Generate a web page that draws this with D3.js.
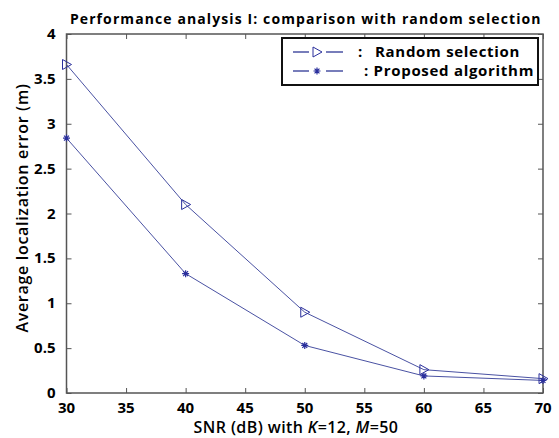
<!DOCTYPE html>
<html>
<head>
<meta charset="utf-8">
<script src="https://d3js.org/d3.v7.min.js"></script>
<style>
  body { margin: 0; background: #fff; }
  text { font-family: 'Open Sans', 'DejaVu Sans', sans-serif; }
</style>
</head>
<body>
<div id="chart"></div>
<script>
// data
var snr = [30, 40, 50, 60, 70];
var randomSel = [3.66, 2.10, 0.90, 0.26, 0.16];
var proposed = [2.84, 1.33, 0.53, 0.19, 0.14];
var xTicks = [30, 35, 40, 45, 50, 55, 60, 65, 70];
var yTicks = [0, 0.5, 1, 1.5, 2, 2.5, 3, 3.5, 4];

var width = 559, height = 438;
var plotL = 66.5, plotR = 543, plotT = 34, plotB = 393;
var lineColor = '#4a52a3';
var markColor = '#2a2f9c';
var axisColor = '#555';

var svg = d3.select('#chart').append('svg')
    .attr('width', width).attr('height', height);

var x = d3.scaleLinear().domain([30, 70]).range([plotL, plotR]);
var y = d3.scaleLinear().domain([0, 4]).range([plotB, plotT]);

// ticks pointing inward on all four sides
svg.append('g').attr('transform', 'translate(0,' + plotB + ')')
    .call(d3.axisTop(x).tickValues(xTicks).tickSize(5).tickFormat(''))
    .call(g => g.select('.domain').remove());
svg.append('g').attr('transform', 'translate(0,' + plotT + ')')
    .call(d3.axisBottom(x).tickValues(xTicks).tickSize(5).tickFormat(''))
    .call(g => g.select('.domain').remove());
svg.append('g').attr('transform', 'translate(' + plotL + ',0)')
    .call(d3.axisRight(y).tickValues(yTicks).tickSize(5).tickFormat(''))
    .call(g => g.select('.domain').remove());
svg.append('g').attr('transform', 'translate(' + plotR + ',0)')
    .call(d3.axisLeft(y).tickValues(yTicks).tickSize(5).tickFormat(''))
    .call(g => g.select('.domain').remove());
svg.selectAll('.tick line').attr('stroke', axisColor);

svg.append('rect')
    .attr('x', plotL).attr('y', plotT)
    .attr('width', plotR - plotL).attr('height', plotB - plotT)
    .attr('fill', 'none').attr('stroke', axisColor).attr('stroke-width', 1.5);

// tick labels
svg.append('g').selectAll('text').data(xTicks).join('text')
    .attr('x', d => x(d)).attr('y', plotB + 20)
    .attr('text-anchor', 'middle')
    .style('font-size', '15px').style('font-weight', 'bold')
    .text(d => d);
svg.append('g').selectAll('text').data(yTicks).join('text')
    .attr('x', plotL - 11).attr('y', d => y(d) + 5)
    .attr('text-anchor', 'end')
    .style('font-size', '15px').style('font-weight', 'bold')
    .text(d => d);

// titles
svg.append('text')
    .attr('x', (plotL + plotR) / 2 + 1).attr('y', 24)
    .attr('text-anchor', 'middle')
    .style('font-size', '14px').style('font-weight', 'bold')
    .style('letter-spacing', '1.1px')
    .text('Performance analysis I: comparison with random selection');

var xt = svg.append('text')
    .attr('x', 296).attr('y', 433)
    .attr('text-anchor', 'middle')
    .style('font-size', '16px').style('font-weight', '600')
    .style('letter-spacing', '0.4px');
xt.append('tspan').text('SNR (dB) with ');
xt.append('tspan').style('font-style', 'italic').text('K');
xt.append('tspan').text('=12, ');
xt.append('tspan').style('font-style', 'italic').text('M');
xt.append('tspan').text('=50');

svg.append('text')
    .attr('transform', 'translate(28,208) rotate(-90)')
    .attr('text-anchor', 'middle')
    .style('font-size', '16px').style('font-weight', '600')
    .style('letter-spacing', '0.7px')
    .text('Average localization error (m)');

// lines
var line = d3.line().x((d, i) => x(snr[i])).y(d => y(d));
svg.append('path').datum(randomSel).attr('d', line)
    .attr('fill', 'none').attr('stroke', lineColor).attr('stroke-width', 1);
svg.append('path').datum(proposed).attr('d', line)
    .attr('fill', 'none').attr('stroke', lineColor).attr('stroke-width', 1);

// markers
function triangle(g, cx, cy) {
    g.append('path')
        .attr('d', 'M' + (cx - 4) + ',' + (cy - 5) + 'L' + (cx + 5) + ',' + cy + 'L' + (cx - 4) + ',' + (cy + 5) + 'Z')
        .attr('fill', 'none').attr('stroke', markColor).attr('stroke-width', 1);
}
function star(g, cx, cy) {
    var r = 3.5;
    g.append('path')
        .attr('d', 'M' + (cx - r) + ',' + cy + 'H' + (cx + r) +
            'M' + cx + ',' + (cy - r) + 'V' + (cy + r) +
            'M' + (cx - r * 0.7) + ',' + (cy - r * 0.7) + 'L' + (cx + r * 0.7) + ',' + (cy + r * 0.7) +
            'M' + (cx - r * 0.7) + ',' + (cy + r * 0.7) + 'L' + (cx + r * 0.7) + ',' + (cy - r * 0.7))
        .attr('stroke', markColor).attr('stroke-width', 1.2);
}
var marks = svg.append('g');
randomSel.forEach((d, i) => triangle(marks, x(snr[i]), y(d)));
proposed.forEach((d, i) => star(marks, x(snr[i]), y(d)));

// legend
var lg = svg.append('g');
lg.append('rect')
    .attr('x', 282).attr('y', 38).attr('width', 256).attr('height', 47)
    .attr('fill', '#fff').attr('stroke', '#111').attr('stroke-width', 2);
var legendRows = [
    { label: 'Random selection', y: 52, mark: triangle, colon: 358, tx: 375 },
    { label: ': Proposed algorithm', y: 71, mark: star, colon: null, tx: 364 }
];
legendRows.forEach(function(r) {
    lg.append('line').attr('x1', 293).attr('x2', 309).attr('y1', r.y).attr('y2', r.y)
        .attr('stroke', lineColor).attr('stroke-width', 1.5);
    lg.append('line').attr('x1', 326).attr('x2', 343).attr('y1', r.y).attr('y2', r.y)
        .attr('stroke', lineColor).attr('stroke-width', 1.5);
    r.mark(lg, 317, r.y);
    if (r.colon) {
        lg.append('text').attr('x', r.colon).attr('y', r.y + 5)
            .style('font-size', '15px').style('font-weight', 'bold').text(':');
    }
    lg.append('text').attr('x', r.tx).attr('y', r.y + 5)
        .style('font-size', '15px').style('font-weight', 'bold')
        .style('letter-spacing', '0.7px')
        .text(r.label);
});
</script>
</body>
</html>
